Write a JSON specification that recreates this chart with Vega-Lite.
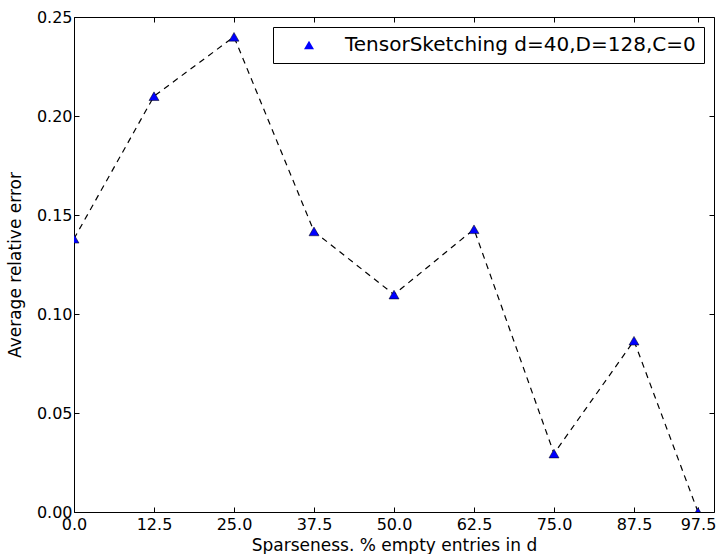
{
  "$schema": "https://vega.github.io/schema/vega-lite/v6.json",
  "width": 640,
  "height": 495,
  "autosize": {"type": "none"},
  "padding": {"left": 74, "top": 17, "right": 3, "bottom": 42},
  "background": "white",
  "config": {
    "font": "DejaVu Sans",
    "view": {"stroke": null},
    "axis": {
      "domainColor": "black",
      "domainWidth": 1,
      "tickColor": "black",
      "tickSize": -5,
      "grid": false,
      "labelColor": "black",
      "titleColor": "black",
      "labelFontSize": 16,
      "titleFontSize": 17,
      "titleFontWeight": "normal",
      "labelFont": "DejaVu Sans",
      "titleFont": "DejaVu Sans"
    },
    "legend": {
      "labelFont": "DejaVu Sans"
    }
  },
  "data": {
    "values": [
      {"x": 0.0, "y": 0.138, "series": "TensorSketching d=40,D=128,C=0"},
      {"x": 12.5, "y": 0.21, "series": "TensorSketching d=40,D=128,C=0"},
      {"x": 25.0, "y": 0.24, "series": "TensorSketching d=40,D=128,C=0"},
      {"x": 37.5, "y": 0.1417, "series": "TensorSketching d=40,D=128,C=0"},
      {"x": 50.0, "y": 0.1098, "series": "TensorSketching d=40,D=128,C=0"},
      {"x": 62.5, "y": 0.1428, "series": "TensorSketching d=40,D=128,C=0"},
      {"x": 75.0, "y": 0.0295, "series": "TensorSketching d=40,D=128,C=0"},
      {"x": 87.5, "y": 0.0865, "series": "TensorSketching d=40,D=128,C=0"},
      {"x": 97.5, "y": 0.0, "series": "TensorSketching d=40,D=128,C=0"}
    ]
  },
  "layer": [
    {
      "mark": {"type": "line", "color": "black", "strokeWidth": 1.2, "strokeDash": [6, 5], "clip": true},
      "encoding": {
        "x": {
          "field": "x", "type": "quantitative",
          "scale": {"domain": [0, 100], "nice": false, "zero": false},
          "axis": {
            "orient": "bottom",
            "values": [0, 12.5, 25, 37.5, 50, 62.5, 75, 87.5, 97.5],
            "format": ".1f",
            "labelFlush": false,
            "labelOverlap": false,
            "labelPadding": 9,
            "title": "Sparseness. % empty entries in d",
            "titlePadding": 5
          }
        },
        "y": {
          "field": "y", "type": "quantitative",
          "scale": {"domain": [0, 0.25], "nice": false},
          "axis": {
            "orient": "left",
            "values": [0, 0.05, 0.1, 0.15, 0.2, 0.25],
            "format": ".2f",
            "labelFlush": false,
            "labelOverlap": false,
            "labelPadding": 7,
            "title": "Average relative error",
            "titlePadding": 12
          }
        }
      }
    },
    {
      "mark": {"type": "point", "filled": true, "fill": "#0000ff", "stroke": "black", "strokeWidth": 0.5, "size": 100, "opacity": 1, "clip": true},
      "encoding": {
        "x": {
          "field": "x", "type": "quantitative",
          "scale": {"domain": [0, 100], "nice": false, "zero": false},
          "axis": {
            "orient": "top",
            "values": [0, 12.5, 25, 37.5, 50, 62.5, 75, 87.5, 97.5],
            "labels": false,
            "title": null
          }
        },
        "y": {
          "field": "y", "type": "quantitative",
          "scale": {"domain": [0, 0.25], "nice": false},
          "axis": {
            "orient": "right",
            "values": [0, 0.05, 0.1, 0.15, 0.2, 0.25],
            "labels": false,
            "title": null
          }
        },
        "shape": {
          "field": "series", "type": "nominal",
          "scale": {"range": ["triangle-up"]},
          "legend": {
            "title": null,
            "orient": "top-right",
            "offset": 10,
            "strokeColor": "black",
            "fillColor": "white",
            "padding": 8,
            "labelFontSize": 20,
            "labelColor": "black",
            "symbolSize": 100,
            "symbolFillColor": "#0000ff",
            "symbolStrokeColor": "black",
            "symbolStrokeWidth": 0.5,
            "symbolOffset": 18,
            "labelOffset": 26,
            "labelLimit": 500
          }
        }
      }
    }
  ],
  "resolve": {"axis": {"x": "independent", "y": "independent"}}
}
